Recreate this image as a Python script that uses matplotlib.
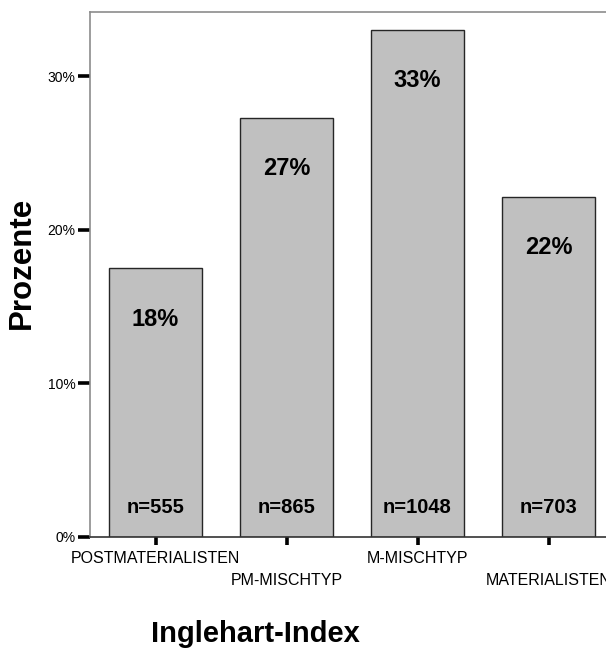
import matplotlib
matplotlib.use("Agg")
import matplotlib.pyplot as plt

plt.rcParams['font.family'] = ['Liberation Sans', 'DejaVu Sans']

categories = ["POSTMATERIALISTEN", "PM-MISCHTYP", "M-MISCHTYP", "MATERIALISTEN"]
percents = [17.5, 27.28, 33.05, 22.17]
pct_labels = ["18%", "27%", "33%", "22%"]
counts = [555, 865, 1048, 703]
yticks = [0, 10, 20, 30]
ytick_labels = ["0%", "10%", "20%", "30%"]

W, H = 606, 650
fig = plt.figure(figsize=(W / 100, H / 100), dpi=100)
ax = fig.add_axes([90 / W, 1 - 537 / H, 524 / W, 525 / H])

x = list(range(len(categories)))
ax.bar(x, percents, width=0.71, color="#c0c0c0", edgecolor="#262626", linewidth=1.0, zorder=2)

ax.set_xlim(-0.5, 3.5)
ax.set_ylim(0, 34.2)

for xi, p, lab, n in zip(x, percents, pct_labels, counts):
    ax.annotate(lab, xy=(xi, p), xytext=(0, -36.5), textcoords="offset points",
                ha="center", va="center", fontsize=17, fontweight="bold", zorder=3)
    ax.annotate(f"n={n}", xy=(xi, 0), xytext=(0, 21), textcoords="offset points",
                ha="center", va="center", fontsize=14.5, fontweight="bold", zorder=3)

ax.set_yticks(yticks)
ax.set_yticklabels(ytick_labels, fontsize=10)
ax.set_xticks(x)
ax.set_xticklabels(categories, fontsize=11.5)
ax.tick_params(axis="y", length=9, width=2.6, color="black", pad=1.5)
ax.tick_params(axis="x", length=6, width=2.6, color="black", pad=4)
for i, t in enumerate(ax.xaxis.get_major_ticks()):
    if i % 2 == 1:
        t.set_pad(20)

ax.spines["left"].set_color("#8c8c8c")
ax.spines["top"].set_color("#8c8c8c")
ax.spines["right"].set_visible(False)
ax.spines["bottom"].set_color("#333333")
for s in ax.spines.values():
    s.set_linewidth(1.2)

fig.text(22 / W, 1 - 263 / H, "Prozente", rotation=90, ha="center", va="center",
         fontsize=22.5, fontweight="bold")
fig.text(255 / W, 1 - 634 / H, "Inglehart-Index", ha="center", va="center",
         fontsize=21, fontweight="bold")

fig.savefig("out.png", dpi=100)
